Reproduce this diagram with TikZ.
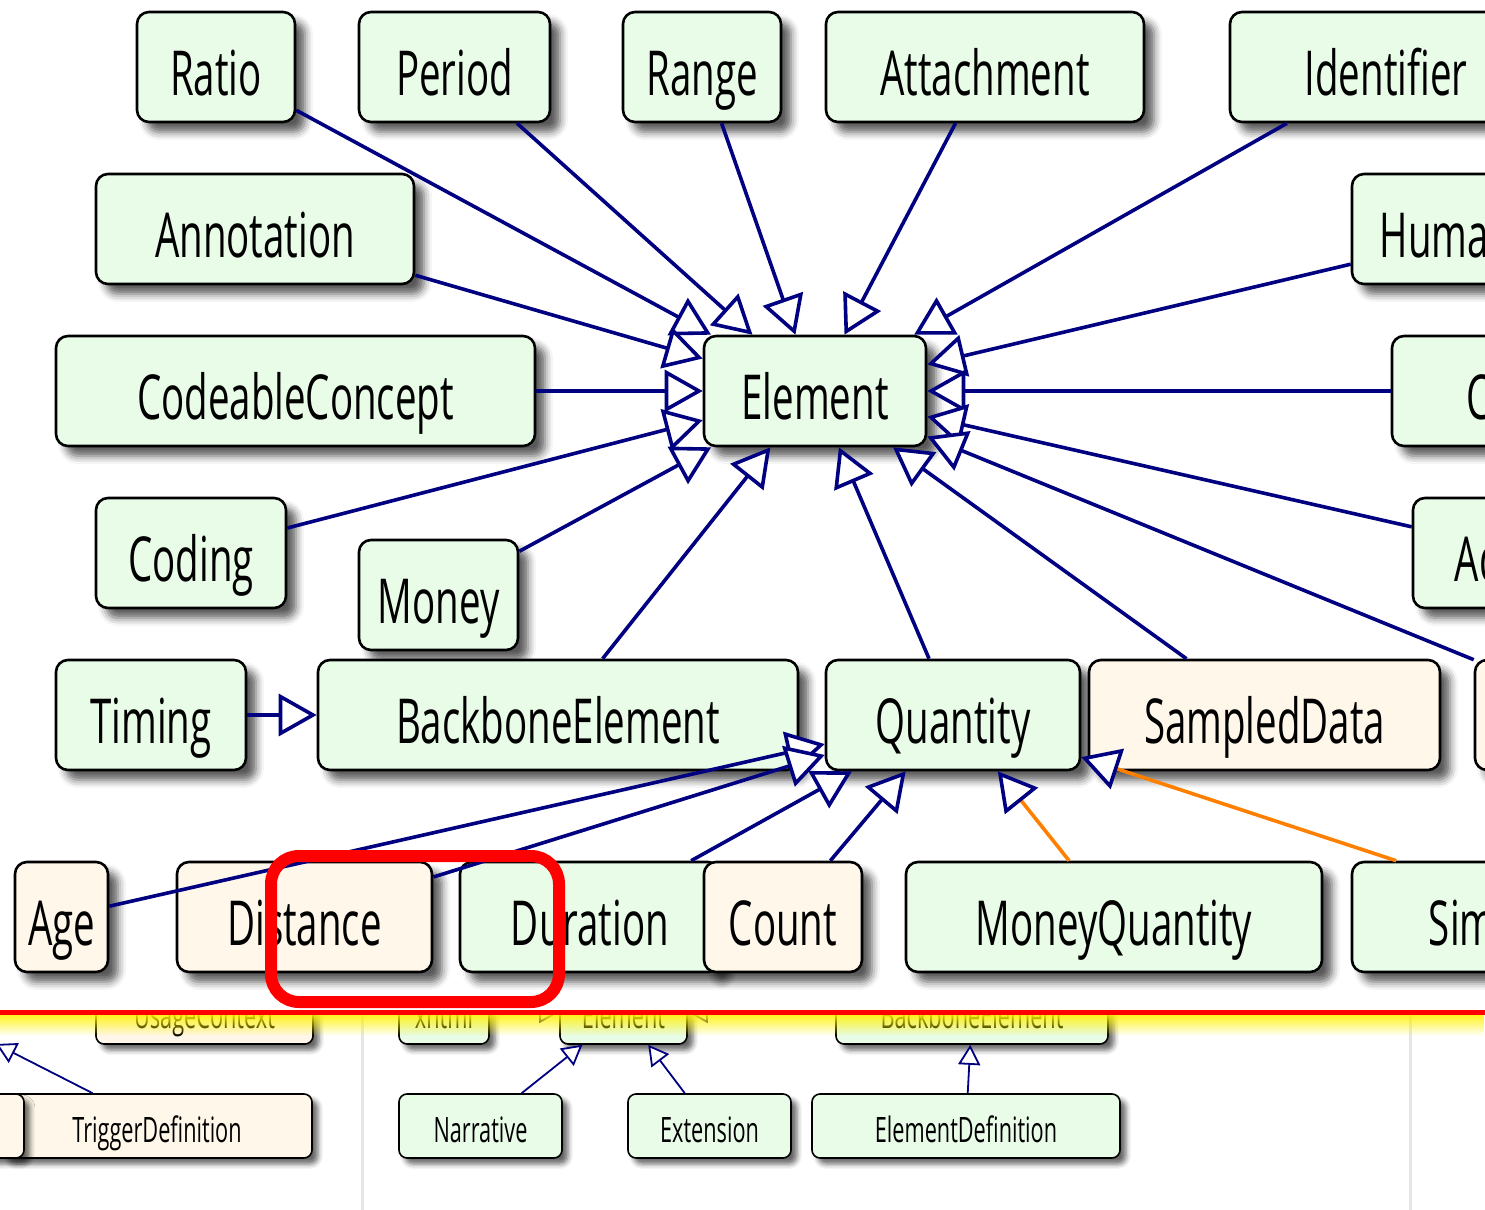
\documentclass[tikz,border=0pt]{standalone}
\usepackage{fontspec}
\setmainfont{Open Sans}[FakeStretch=0.62]
\usetikzlibrary{arrows.meta,shadows.blur,fadings}
\definecolor{dtgreen}{HTML}{E8FCE8}
\definecolor{dtbeige}{HTML}{FFF7EA}
\definecolor{uml}{HTML}{000080}
\definecolor{hilite}{HTML}{FF0000}
\definecolor{sepgrey}{HTML}{E6E6E6}
\tikzstyle{box}=[draw, line width=1.3pt, rounded corners=6pt, inner sep=0pt]
\tikzstyle{dtype}=[box, fill=dtgreen, minimum height=55pt, font=\fontsize{31}{36}\selectfont,
 text height=28pt, text depth=0pt,
 blur shadow={shadow xshift=5pt, shadow yshift=-5pt, shadow blur radius=4pt, shadow opacity=65}]
\tikzstyle{prof}=[dtype, fill=dtbeige]
\tikzstyle{sdtype}=[box, line width=0.8pt, rounded corners=4pt, fill=dtgreen, minimum height=32pt,
 font=\fontsize{17.5}{20}\selectfont, text height=16.5pt, text depth=0pt,
 blur shadow={shadow xshift=3pt, shadow yshift=-3pt, shadow blur radius=2.5pt, shadow opacity=60}]
\tikzstyle{sprof}=[sdtype, fill=dtbeige]
\tikzstyle{isa}=[uml, line width=1.8pt, -{Triangle[fill=white, length=19pt, width=21pt]}]
\tikzstyle{isaorange}=[isa, draw=orange, -{Triangle[fill=white, color=uml, length=19pt, width=21pt]}]
\tikzstyle{sisa}=[uml, line width=0.9pt, -{Triangle[fill=white, length=10pt, width=11pt]}]
\begin{document}
\begin{tikzpicture}[x=0.5pt, y=-0.5pt]
	\useasboundingbox (0,0) rectangle (1485,1210);
	\clip (0,0) rectangle (1485,1210);

		% lower part, below the marker line
		\begin{scope}
		\clip (-10,1012) rectangle (1500,1220);
		\draw[sepgrey, line width=1.5pt] (362,1012) -- (362,1210) (1410,1012) -- (1410,1210);
		\node[sprof, minimum width=108.5pt] (usage) at (204.5,1012) {UsageContext};
		\node[sdtype, minimum width=45pt] (xhtml) at (444,1012) {xhtml};
		\node[sdtype, minimum width=63.5pt] (elem2) at (623.5,1012) {Element};
		\node[sdtype, minimum width=136pt] (bb2) at (972,1012) {BackboneElement};
		\node[sprof, minimum width=155pt] (trigger) at (157,1126) {TriggerDefinition};
		\node[sprof, minimum width=112pt] (leftcut) at (-88,1126) {};
		\foreach \xpos/\w/\lab/\txt in {480.5/81.5/narr/Narrative, 709.5/81.5/ext/Extension, 966/154/eldef/ElementDefinition}
		\node[sdtype, minimum width=\w pt] (\lab) at (\xpos,1126) {\txt};
		\coordinate (tdend) at (-4,1044);
		\draw[sisa] (trigger) -- (tdend);
		\foreach \from/\to in {xhtml/elem2, bb2/elem2, narr/elem2, ext/elem2, eldef/bb2}
		\draw[sisa] (\from) -- (\to);
		\end{scope}

		% top row
		\foreach \xpos/\w/\lab/\txt in {216/79/ratio/Ratio, 454.5/95.5/period/Period, 702/79/range/Range, 985/159/attach/Attachment, 1386/156/ident/Identifier}
		\node[dtype, minimum width=\w pt] (\lab) at (\xpos,67) {\txt};
		\node[dtype, minimum width=159pt] (annot) at (255,229) {Annotation};
		\node[dtype, minimum width=148pt] (human) at (1500,229) {HumanName};
		\node[dtype, minimum width=239.5pt] (codeable) at (295.5,391) {CodeableConcept};
		\node[dtype, minimum width=111pt] (element) at (815,391) {Element};
		\node[dtype, minimum width=190pt] (contact) at (1582,391) {ContactPoint};
		\node[dtype, minimum width=95pt] (coding) at (191,553) {Coding};
		\node[dtype, minimum width=79.5pt] (money) at (438.5,595) {Money};
		\node[dtype, minimum width=114pt] (address) at (1527,553) {Address};
		% row with BackboneElement and Quantity
		\node[dtype, minimum width=95pt] (timing) at (151,715) {Timing};
		\node[dtype, minimum width=240pt] (backbone) at (558,715) {BackboneElement};
		\node[dtype, minimum width=127pt] (quantity) at (953,715) {Quantity};
		\node[prof, minimum width=175.5pt] (sampled) at (1264.5,715) {SampledData};
		\node[prof, minimum width=135pt] (rightcut) at (1610,715) {};
		% Quantity kinds
		\node[prof, minimum width=46.5pt] (age) at (61.5,917) {Age};
		\node[prof, minimum width=127.5pt] (distance) at (304.5,917) {Distance};
		\node[dtype, minimum width=130pt] (duration) at (590,917) {Duration};
		\node[prof, minimum width=79pt] (count) at (783,917) {Count};
		\node[dtype, minimum width=208pt] (moneyq) at (1114,917) {MoneyQuantity};
		\node[dtype, minimum width=215pt] (simpleq) at (1567,917) {SimpleQuantity};

		\foreach \from in {ratio, period, range, attach, ident, annot, human, codeable, contact, coding, money, address, backbone, quantity, sampled, rightcut}
		\draw[isa] (\from) -- (element);
		\draw[isa] (timing) -- (backbone);
		\foreach \from in {age, distance, duration, count}
		\draw[isa] (\from) -- (quantity);
		\foreach \from in {moneyq, simpleq}
		\draw[isaorange] (\from) -- (quantity);

		% marker line and highlight
		\fill[yellow, path fading=south] (0,1012) rectangle (1485,1036);
		\draw[hilite, line width=2.5pt] (0,1012) -- (1485,1012);
		\draw[hilite, line width=6pt, rounded corners=14pt] (271,856) rectangle (559,1002);
\end{tikzpicture}
\end{document}
